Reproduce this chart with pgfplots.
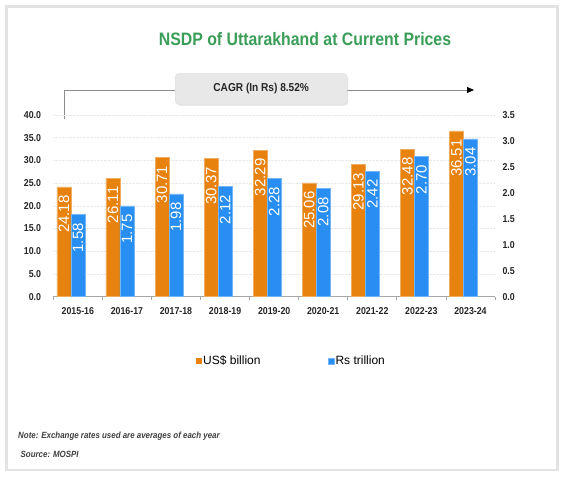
\documentclass[border=0pt]{standalone}
\usepackage{fontspec}
\setmainfont{Liberation Sans}
\newfontfamily\narrow[FakeStretch=0.88]{Liberation Sans}
\usepackage{pgfplots}
\pgfplotsset{compat=1.18}
\usetikzlibrary{arrows.meta,shadows}

\definecolor{usd}{RGB}{232,130,14}
\definecolor{inr}{RGB}{40,142,242}
\definecolor{ttl}{RGB}{58,158,88}

\newcommand{\fs}[1]{\fontsize{#1bp}{#1bp}\selectfont}

\pgfplotsset{
  nsdp/.style={
    scale only axis, width=441.7bp, height=181.7bp,
    at={(53.3bp,181.3bp)}, anchor=south west,
    xmin=-0.5, xmax=8.5, ymin=0,
    /pgf/number format/assume math mode=true,
    ticklabel style={font=\narrow\bfseries\fs{10}, text=black!85},
    nodes near coords style={font=\fs{15}, text=white, rotate=90,
      anchor=east, inner sep=0pt, outer xsep=8.5bp},
  },
}

\begin{document}
\begin{tikzpicture}[x=1bp,y=1bp]
\useasboundingbox (0,0) rectangle (563,478);
\fill[white] (0,0) rectangle (563,478);
\draw[line width=2.5bp, black!11] (6.3,471.7) rectangle (557.3,7.8);

% title
\node[text=ttl, font=\narrow\bfseries\fs{18}] at (305,438.5) {NSDP of Uttarakhand at Current Prices};

% CAGR bracket and box
\draw[black!45, line width=0.9bp, -{Triangle[length=7bp,width=6bp,color=black]}]
  (64,358.7) -- (64,388) -- (474,388);
\node[draw=black!14, fill=black!9, rounded corners=4bp, minimum width=172bp,
  minimum height=31bp, inner sep=0pt,
  drop shadow={shadow xshift=1bp, shadow yshift=-1.5bp, opacity=0.18},
  font=\narrow\bfseries\fs{11.5}, text=black!85] at (261.2,389.2) {CAGR (In Rs) 8.52\%};

% US$ billion, left axis (bars sit left of the category centre)
\begin{axis}[nsdp,
  ymax=40, ytick={0,5,...,40},
  yticklabel={\pgfmathprintnumber[fixed,fixed zerofill,precision=1]{\tick}},
  axis x line*=bottom, axis y line*=left,
  y axis line style={draw=none}, ytick style={draw=none},
  x axis line style={black!35, line width=0.8bp},
  xtick={0,...,8},
  xticklabels={2015-16,2016-17,2017-18,2018-19,2019-20,2020-21,2021-22,2022-23,2023-24},
  major x tick style={draw=none},
  minor xtick={-0.5,0.5,...,8.5},
  minor x tick style={black!35, line width=0.8bp},
  minor tick length=3.5bp, tick align=outside,
  xticklabel style={yshift=-3bp},
  yticklabel style={xshift=-4.5bp},
  ymajorgrids, major grid style={black!9, densely dotted, line width=0.6bp},
]
\addplot[ybar, bar width=0.285, bar shift=0, fill=usd, draw=usd!65!white,
  line width=0.5bp,
  nodes near coords={\pgfmathprintnumber[fixed,fixed zerofill,precision=2]{\pgfplotspointmeta}}]
  coordinates {
  (-0.284,24.18) (0.716,26.11) (1.716,30.71) (2.716,30.37) (3.716,32.29)
  (4.716,25.06) (5.716,29.13) (6.716,32.48) (7.716,36.51)
};
\end{axis}

% Rs trillion, right axis
\begin{axis}[nsdp,
  ymax=3.5, ytick={0,0.5,...,3.5},
  yticklabel={\pgfmathprintnumber[fixed,fixed zerofill,precision=1]{\tick}},
  axis x line=none, axis y line*=right,
  y axis line style={draw=none}, ytick style={draw=none},
  yticklabel style={xshift=4bp},
  legend style={at={(0.323,-0.355)}, anchor=west, draw=none, fill=none,
    inner sep=0pt, legend columns=2, font=\fs{12},
    /tikz/every odd column/.append style={column sep=0bp},
    /tikz/every even column/.append style={column sep=66bp},
    nodes={inner sep=1.5bp}},
  legend image code/.code={\fill[#1] (0bp,-2.9bp) rectangle (5.5bp,2.9bp);},
]
\addlegendimage{fill=usd, draw=none}
\addlegendentry{US\$ billion}
\addplot[ybar, bar width=0.285, bar shift=0, fill=inr, draw=inr!65!white,
  line width=0.5bp,
  nodes near coords={\pgfmathprintnumber[fixed,fixed zerofill,precision=2]{\pgfplotspointmeta}}]
  coordinates {
  (0,1.58) (1,1.75) (2,1.98) (3,2.12) (4,2.28)
  (5,2.08) (6,2.42) (7,2.70) (8,3.04)
};
\addlegendentry{Rs trillion}
\end{axis}

% footnotes
\node[anchor=west, inner sep=0pt, font=\narrow\bfseries\itshape\fs{9}, text=black!75]
  at (18,42) {Note: Exchange rates used are averages of each year};
\node[anchor=west, inner sep=0pt, font=\narrow\bfseries\itshape\fs{9}, text=black!75]
  at (20.5,24) {Source: MOSPI};
\end{tikzpicture}
\end{document}
